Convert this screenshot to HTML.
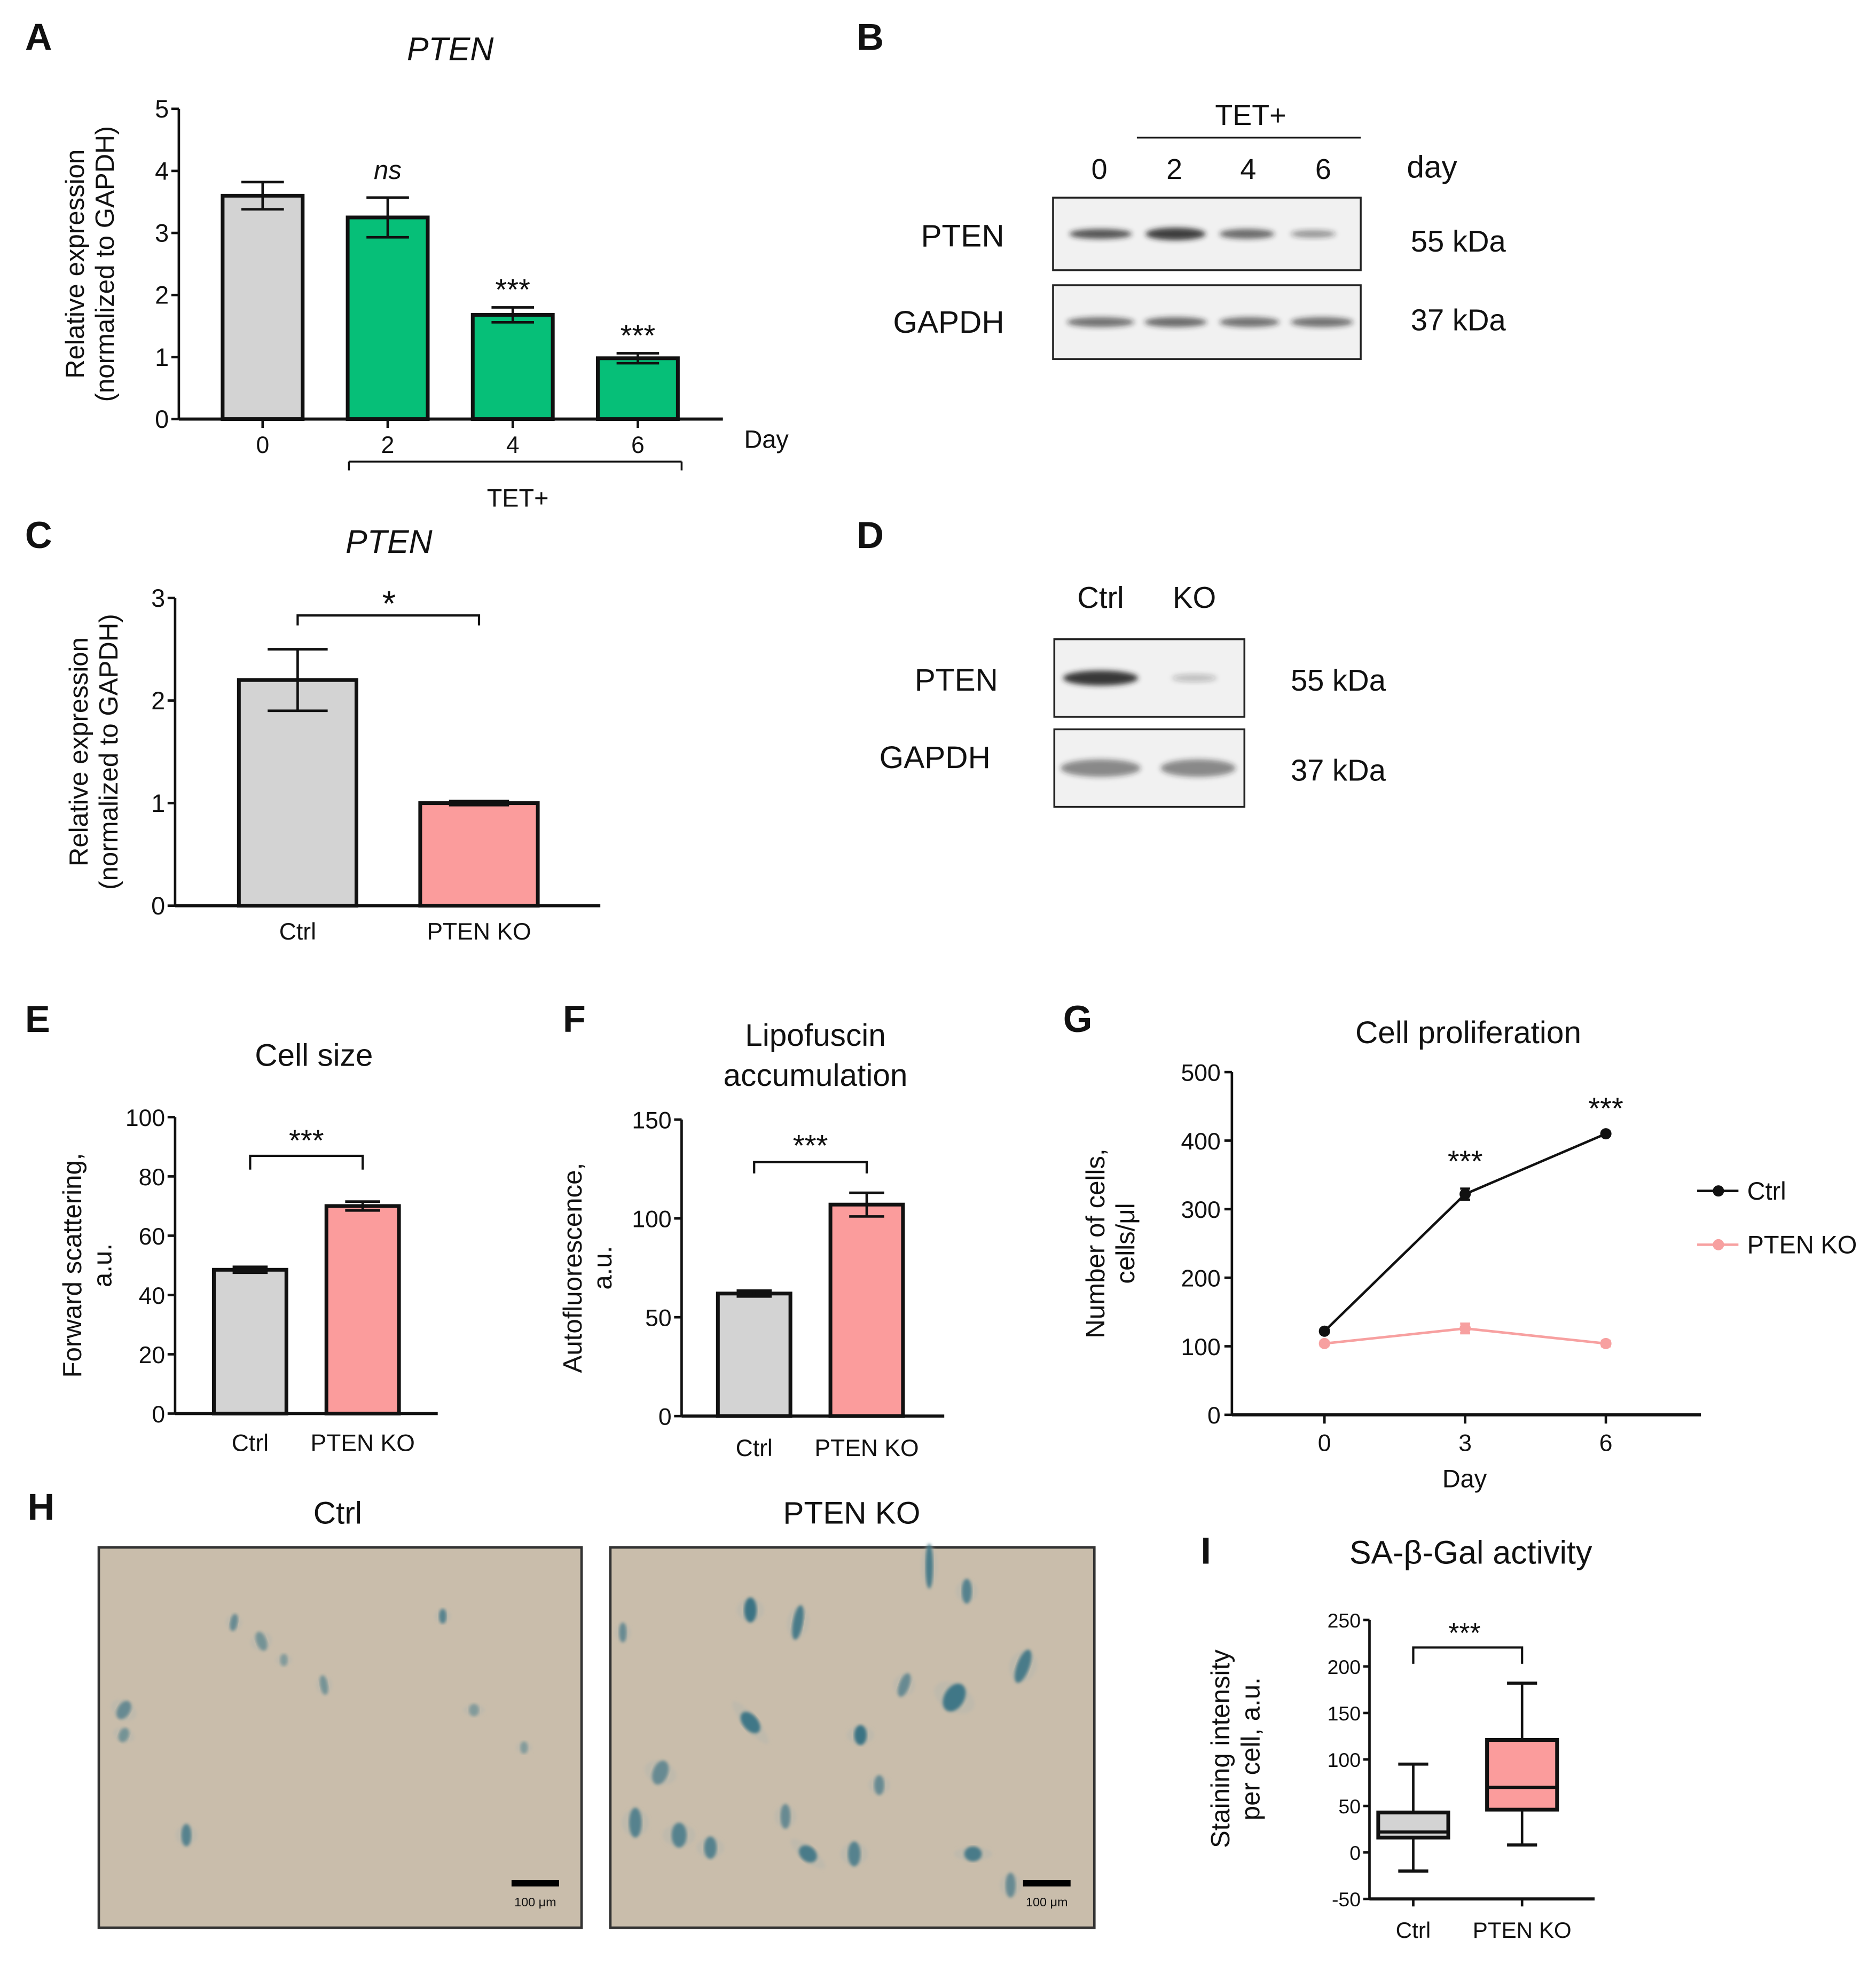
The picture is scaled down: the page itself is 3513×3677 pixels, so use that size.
<!DOCTYPE html>
<html><head><meta charset="utf-8"><style>
html,body{margin:0;padding:0;background:#fff}
svg{display:block}
text{font-family:"Liberation Sans",sans-serif;fill:#111}
</style></head><body>
<svg id="fig" width="3513" height="3677" viewBox="0 0 1500 1570" xmlns="http://www.w3.org/2000/svg">
<defs>
<filter id="blur2" x="-20%" y="-50%" width="140%" height="200%"><feGaussianBlur stdDeviation="2"/></filter>
<filter id="blur1"><feGaussianBlur stdDeviation="1.2"/></filter>
</defs>
<g id="root"></g>
</svg>
<script>
// ---------- data ----------
const aCats=["0","2","4","6"];
const aVals=[3.6,3.25,1.68,0.98];
const aErr=[0.22,0.32,0.12,0.08];
const aTicks=[0,1,2,3,4,5];
const cCats=["Ctrl","PTEN KO"];
const cVals=[2.2,1.0];
const cErr=[0.3,0.02];
const cTicks=[0,1,2,3];
const eCats=["Ctrl","PTEN KO"];
const eVals=[48.5,70];
const eErr=[1,1.5];
const eTicks=[0,20,40,60,80,100];
const fCats=["Ctrl","PTEN KO"];
const fVals=[62,107];
const fErr=[1.5,6];
const fTicks=[0,50,100,150];
const gDays=[0,3,6];
const gCtrl=[122,322,410];
const gCtrlErr=[3,8,3];
const gKO=[104,126,104];
const gKOErr=[3,7,4];
const gTicks=[0,100,200,300,400,500];
const iCats=["Ctrl","PTEN KO"];
const iMin=[-20,8];
const iQ1=[16,46];
const iMed=[22,70];
const iQ3=[43,121];
const iMax=[95,182];
const iTicks=[-50,0,50,100,150,200,250];

const NS="http://www.w3.org/2000/svg";
const root=document.getElementById('root');
function mk(tag,attrs,parent,txt){const e=document.createElementNS(NS,tag);for(const k in attrs)e.setAttribute(k,attrs[k]);if(txt!==undefined)e.textContent=txt;(parent||root).appendChild(e);return e;}
function grp(name){const g=mk('g',{});


return g;}
function line(g,x1,y1,x2,y2,w,c){return mk('line',{x1,y1,x2,y2,stroke:c||'#111','stroke-width':w||2},g);}
function txt(g,x,y,s,size,anchor,extra){const t=mk('text',Object.assign({x,y,'font-size':size,'text-anchor':anchor||'middle'},extra||{}),g,s);return t;}

[["A",20,40],["B",685,40],["C",20,438],["D",685,438],["E",20,825],["F",450,825],["G",850,825],["H",22,1215],["I",960,1250]].forEach(([l,x,y])=>{
  const t=txt(root,x,y,l,30,'start',{'font-weight':'bold'});
  
  
});

function barChart(name,cfg){
  const g=grp(name);
  const ys=v=>cfg.y0-(v-cfg.vmin)*(cfg.y0-cfg.ytop)/(cfg.vmax-cfg.vmin);
  line(g,cfg.xa,cfg.ytop,cfg.xa,cfg.y0,2);
  line(g,cfg.xa,cfg.y0,cfg.xe,cfg.y0,2.5);
  cfg.ticks.forEach(t=>{const y=ys(t);line(g,cfg.xa-6,y,cfg.xa,y,2);
    const tl=txt(g,cfg.xa-8,y+7,String(t),cfg.tfs||19,'end');
    
    });
  cfg.vals.forEach((v,i)=>{
    const cx=cfg.cx[i];const y=ys(v);
    const r=mk('rect',{x:cx-cfg.w/2,y:y,width:cfg.w,height:cfg.y0-y,fill:cfg.colors[i],stroke:'#111','stroke-width':3},g);
    
    
    const e=cfg.err[i];
    line(g,cx,ys(v+e),cx,ys(v-e),2);
    line(g,cx-cfg.cap,ys(v+e),cx+cfg.cap,ys(v+e),2);
    line(g,cx-cfg.cap,ys(v-e),cx+cfg.cap,ys(v-e),2);
    if(cfg.xticks)line(g,cx,cfg.y0,cx,cfg.y0+7,2);
    const xl=txt(g,cx,cfg.y0+cfg.xlo,cfg.cats[i],cfg.xfs||19);
    
    
  });
  const yt=txt(g,0,0,'',cfg.yfs||21,'middle',{transform:`translate(${cfg.ylx},${(cfg.ytop+cfg.y0)/2}) rotate(-90)`});
  cfg.ylab.forEach((s,k)=>{mk('tspan',{x:0,dy:k?24:0},yt,s);});
  
  
  return {g,ys};
}

let A=barChart('chart-a-pten-expression',{xa:143,xe:578,y0:335,ytop:87,vmin:0,vmax:5,ticks:aTicks,vals:aVals,err:aErr,cats:aCats,
 cx:[210,310,410,510],w:64,cap:17,colors:['#d3d3d3','#06bf78','#06bf78','#06bf78'],xticks:true,xlo:27,ylx:67,ylab:['Relative expression','(normalized to GAPDH)'],tfs:20});
txt(A.g,360,48,'PTEN',26,'middle',{'font-style':'italic'});
txt(A.g,595,358,'Day',20,'start');
line(A.g,279,369,545,369,1.5);line(A.g,279,369,279,376,1.5);line(A.g,545,369,545,376,1.5);
txt(A.g,414,405,'TET+',20);
txt(A.g,310,143,'ns',21,'middle',{'font-style':'italic'});
[[410,aVals[2]+aErr[2]],[510,aVals[3]+aErr[3]]].forEach(([x,v])=>txt(A.g,x,A.ys(v)-6,'***',24));

let C=barChart('chart-c-pten-ko-expression',{xa:140,xe:480,y0:724,ytop:478,vmin:0,vmax:3,ticks:cTicks,vals:cVals,err:cErr,cats:cCats,
 cx:[238,383],w:94,cap:24,colors:['#d3d3d3','#fb9c9c'],xticks:false,xlo:27,ylx:70,ylab:['Relative expression','(normalized to GAPDH)'],tfs:20});
txt(C.g,311,442,'PTEN',26,'middle',{'font-style':'italic'});
mk('path',{d:'M238,500 V492 H383 V500',fill:'none',stroke:'#111','stroke-width':1.8},C.g);
txt(C.g,311,492,'*',28);

let E=barChart('chart-e-cell-size',{xa:140,xe:350,y0:1130,ytop:893,vmin:0,vmax:100,ticks:eTicks,vals:eVals,err:eErr,cats:eCats,
 cx:[200,290],w:58,cap:14,colors:['#d3d3d3','#fb9c9c'],xticks:false,xlo:30,ylx:65,ylab:['Forward scattering,','a.u.'],tfs:19});
txt(E.g,251,852,'Cell size',25);
mk('path',{d:'M200,935 V924 H290 V935',fill:'none',stroke:'#111','stroke-width':1.8},E.g);
txt(E.g,245,920,'***',24);

let F=barChart('chart-f-lipofuscin',{xa:545,xe:755,y0:1132,ytop:895,vmin:0,vmax:150,ticks:fTicks,vals:fVals,err:fErr,cats:fCats,
 cx:[603,693],w:58,cap:14,colors:['#d3d3d3','#fb9c9c'],xticks:false,xlo:32,ylx:465,ylab:['Autofluorescence,','a.u.'],tfs:19});
txt(F.g,652,836,'Lipofuscin',25);txt(F.g,652,868,'accumulation',25);
mk('path',{d:'M603,938 V929 H693 V938',fill:'none',stroke:'#111','stroke-width':1.8},F.g);
txt(F.g,648,924,'***',24);

(function(){
 const g=grp('chart-g-cell-proliferation');
 const y0=1131,ytop=857,xa=985,xe=1360;
 const ys=v=>y0-v*(y0-ytop)/500;
 const xs=d=>1059+d*(1284-1059)/6;
 line(g,xa,ytop,xa,y0,2);line(g,xa,y0,xe,y0,2.5);
 gTicks.forEach(t=>{const y=ys(t);line(g,xa-6,y,xa,y,2);
  const tl=txt(g,xa-9,y+7,String(t),19,'end');
  
  });
 gDays.forEach(d=>{line(g,xs(d),y0,xs(d),y0+7,2);
  const tl=txt(g,xs(d),y0+29,String(d),19);
  
  });
 txt(g,1171,1189,'Day',20);
 const yt=txt(g,0,0,'',21,'middle',{transform:`translate(883,${(ytop+y0)/2}) rotate(-90)`});
 mk('tspan',{x:0,dy:0},yt,'Number of cells,');mk('tspan',{x:0,dy:24},yt,'cells/μl');
 
 
 txt(g,1174,834,'Cell proliferation',25);
 function series(vals,errs,color,name){
  const p=mk('polyline',{points:vals.map((v,i)=>xs(gDays[i])+','+ys(v)).join(' '),fill:'none',stroke:color,'stroke-width':2},g);
  
  
  vals.forEach((v,i)=>{const x=xs(gDays[i]);
   line(g,x,ys(v+errs[i]),x,ys(v-errs[i]),1.8,color);
   line(g,x-4,ys(v+errs[i]),x+4,ys(v+errs[i]),1.8,color);line(g,x-4,ys(v-errs[i]),x+4,ys(v-errs[i]),1.8,color);
   const c=mk('circle',{cx:x,cy:ys(v),r:4.5,fill:color},g);
   
   });
 }
 series(gKO,gKOErr,'#f7a0a0','ko');
 series(gCtrl,gCtrlErr,'#111','ctrl');
 txt(g,xs(3),ys(gCtrl[1])-18,'***',24);txt(g,xs(6),ys(gCtrl[2])-12,'***',24);
 const l1=grp('legend-entry-ctrl');g.appendChild(l1);
 line(l1,1357,952,1390,952,2,'#111');mk('circle',{cx:1374,cy:952,r:4.5,fill:'#111'},l1);txt(l1,1397,959,'Ctrl',20,'start');
 const l2=grp('legend-entry-pten-ko');g.appendChild(l2);
 line(l2,1357,995,1390,995,2,'#f7a0a0');mk('circle',{cx:1374,cy:995,r:4.5,fill:'#f7a0a0'},l2);txt(l2,1397,1002,'PTEN KO',20,'start');
})();

(function(){
 const g=grp('chart-i-sa-beta-gal');
 const y0=1518,ytop=1295,xa=1095,xe=1275;
 const ys=v=>y0-(v+50)*(y0-ytop)/300;
 const cx=[1130,1217];
 line(g,xa,ytop,xa,y0,2);line(g,xa,y0,xe,y0,2.5);
 iTicks.forEach(t=>{const y=ys(t);line(g,xa-5,y,xa,y,2);
  const tl=txt(g,xa-7,y+6,String(t),16,'end');
  
  });
 iCats.forEach((c,i)=>{const x=cx[i],w=56;
  line(g,x,ys(iMin[i]),x,ys(iMax[i]),2);
  line(g,x-12,ys(iMin[i]),x+12,ys(iMin[i]),2.5);line(g,x-12,ys(iMax[i]),x+12,ys(iMax[i]),2.5);
  const r=mk('rect',{x:x-w/2,y:ys(iQ3[i]),width:w,height:ys(iQ1[i])-ys(iQ3[i]),fill:i?'#fb9c9c':'#d3d3d3',stroke:'#111','stroke-width':3},g);
  
  
  line(g,x-w/2,ys(iMed[i]),x+w/2,ys(iMed[i]),2.5);
  line(g,x,y0,x,y0+6,2);
  const tl=txt(g,x,y0+31,c,18);
  
  });
 const yt=txt(g,0,0,'',21,'middle',{transform:`translate(983,1398) rotate(-90)`});
 mk('tspan',{x:0,dy:0},yt,'Staining intensity');mk('tspan',{x:0,dy:24},yt,'per cell, a.u.');
 
 
 txt(g,1176,1250,'SA-β-Gal activity',26);
 mk('path',{d:'M1130,1330 V1317 H1217 V1330',fill:'none',stroke:'#111','stroke-width':1.8},g);
 txt(g,1171,1313,'***',22);
})();

function blot(name,x,y,w,h,bands){
 const g=grp(name);
 mk('rect',{x,y,width:w,height:h,fill:'#f1f1f1',stroke:'#222','stroke-width':1.5},g);
 bands.forEach(([cx,rx,ry,op])=>mk('ellipse',{cx,cy:y+h/2,rx,ry,fill:'#222','fill-opacity':op,filter:'url(#blur2)'},g));
 return g;
}
(function(){
 const g=grp('western-blot-b');
 txt(g,1000,100,'TET+',23);line(g,909,110,1088,110,1.5);
 [['0',879],['2',939],['4',998],['6',1058]].forEach(([s,x])=>txt(g,x,143,s,23));
 txt(g,1145,142,'day',25,'middle');
 txt(g,803,197,'PTEN',25,'end');txt(g,803,266,'GAPDH',25,'end');
 txt(g,1128,201,'55 kDa',24,'start');txt(g,1128,264,'37 kDa',24,'start');
 g.appendChild(blot('blot-b-pten',842,158,246,58,[[880,25,4,0.75],[940,24,5,0.85],[997,22,4,0.65],[1050,18,3,0.45]]));
 g.appendChild(blot('blot-b-gapdh',842,228,246,59,[[880,27,4,0.6],[940,25,4,0.65],[999,24,4,0.6],[1057,25,4,0.6]]));
})();
(function(){
 const g=grp('western-blot-d');
 txt(g,880,486,'Ctrl',24);txt(g,955,486,'KO',24);
 txt(g,798,552,'PTEN',25,'end');txt(g,792,614,'GAPDH',25,'end');
 txt(g,1032,552,'55 kDa',24,'start');txt(g,1032,624,'37 kDa',24,'start');
 g.appendChild(blot('blot-d-pten',843,511,152,62,[[880,30,6,0.9],[955,18,3,0.25]]));
 g.appendChild(blot('blot-d-gapdh',843,583,152,62,[[880,32,7,0.5],[958,30,7,0.5]]));
})();

function micro(name,x,y,w,h,cells){
 const g=grp(name);
 mk('rect',{x,y,width:w,height:h,fill:'#c9bdab',stroke:'#333','stroke-width':2},g);
 cells.forEach(([cx,cy,rx,ry,rot,op])=>{
  mk('ellipse',{cx:x+cx,cy:y+cy,rx:rx*2.2,ry:ry*0.9,fill:'#b9b8ad','fill-opacity':0.6,transform:`rotate(${rot} ${x+cx} ${y+cy})`,filter:'url(#blur1)'},g);
  mk('ellipse',{cx:x+cx,cy:y+cy,rx,ry,fill:'#2b6b80','fill-opacity':op,transform:`rotate(${rot} ${x+cx} ${y+cy})`,filter:'url(#blur1)'},g);
 });
 mk('rect',{x:x+330,y:y+266,width:38,height:5,fill:'#000'},g);
 txt(g,x+349,y+287,'100 μm',10);
 return g;
}
txt(root,270,1218,'Ctrl',25);txt(root,681,1218,'PTEN KO',25);
micro('micrograph-ctrl',79,1237,386,304,[[108,60,3,7,10,0.6],[130,75,4,8,-20,0.5],[275,55,3,6,0,0.7],[20,130,5,8,30,0.6],[20,150,4,6,20,0.5],[180,110,3,8,-10,0.5],[148,90,3,5,0,0.4],[70,230,4,9,0,0.7],[300,130,4,5,0,0.4],[340,160,3,5,0,0.4]]);
micro('micrograph-pten-ko',488,1237,387,304,[[112,50,5,10,0,0.9],[10,68,3,8,0,0.6],[150,60,4,14,10,0.8],[255,15,3,18,0,0.8],[285,35,4,10,0,0.7],[275,120,8,12,30,0.85],[330,95,5,14,20,0.8],[112,140,10,6,50,0.85],[200,150,5,8,0,0.9],[40,180,6,10,20,0.6],[140,215,4,10,0,0.6],[55,230,6,10,0,0.7],[80,240,5,9,0,0.7],[158,245,8,6,40,0.8],[195,245,5,10,0,0.7],[290,245,7,6,0,0.8],[20,220,5,12,0,0.7],[320,270,4,10,0,0.6],[215,190,4,8,0,0.6],[235,110,4,10,20,0.6]]);
</script>
</body></html>
